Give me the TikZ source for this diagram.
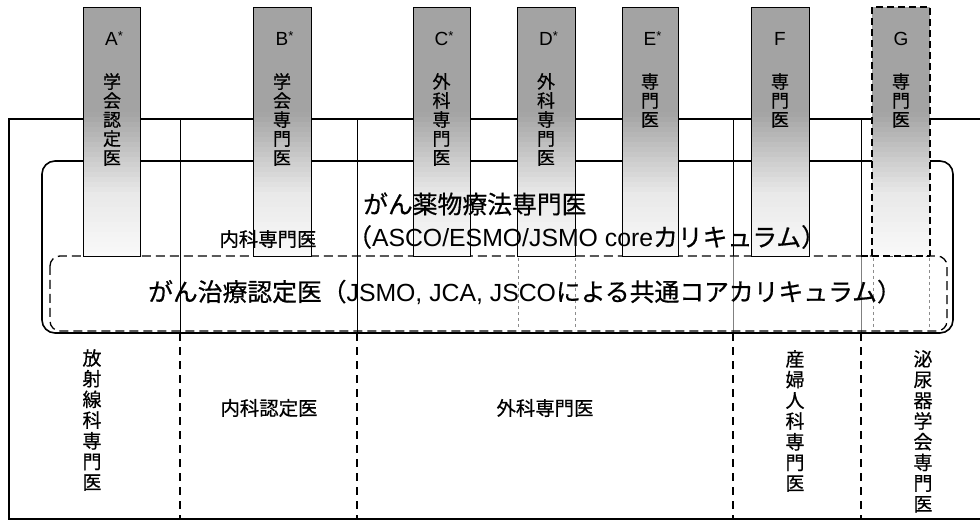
\documentclass[tikz,border=0pt]{standalone}
\usepackage{fontspec}
\setmainfont{Liberation Sans}
\newfontfamily\jp[FakeBold=0.6]{Noto Sans CJK JP}
\newcommand\colshade[2]{%
  \foreach \yy in {7,12,...,252}{%
    \pgfmathsetmacro\g{\yy<110 ? 36 : (\yy<190 ? 36-27*(\yy-110)/80 : 9-7*(\yy-190)/66)}%
    \pgfmathsetmacro\ye{min(\yy+5.6,256)}%
    \fill[black!\g] (#1,\yy) rectangle (#2,\ye);
  }}
\begin{document}
\begin{tikzpicture}[x=1pt,y=-1pt,
  frame/.style={line width=1.6pt},
  divider/.style={line width=0.9pt},
  dsh/.style={line width=1.4pt, dash pattern=on 8pt off 6pt},
  faint/.style={line width=0.5pt, black!45, dash pattern=on 3pt off 3pt},
  colbox/.style={line width=0.9pt},
  vlab/.style={font=\jp\fontsize{18}{19}\selectfont, align=center, inner sep=0pt, anchor=north},
  blab/.style={font=\jp\fontsize{19}{20.7}\selectfont, align=center, inner sep=0pt, anchor=north},
  letter/.style={font=\fontsize{19}{19}\selectfont, inner sep=0pt, anchor=base},
  big/.style={font=\jp\fontsize{24.8}{26}\selectfont, inner sep=0pt, anchor=west},
  mid/.style={font=\jp\fontsize{19.4}{20}\selectfont, inner sep=0pt}
]
\useasboundingbox (0,0) rectangle (980,521);
% outer frame (open at the right)
\coordinate (ftr) at (980,119);
\coordinate (ftl) at (9,119);
\coordinate (fbl) at (9,519);
\coordinate (fbr) at (980,519);
\draw[frame] (ftr) -- (ftl) -- (fbl) -- (fbr);
% dividers
\foreach \x in {180,357}{
  \draw[divider] (\x,119) -- (\x,333);
  \draw[dsh] (\x,333) -- (\x,519);
}
\foreach \x in {733,861}{
  \draw[divider] (\x,119) -- (\x,256);
  \draw[line width=0.5pt, black!50] (\x,256) -- (\x,333);
  \draw[dsh] (\x,333) -- (\x,519);
}
% large solid rounded box
\draw[frame, rounded corners=13pt] (42,161) rectangle (953,333);
% dashed rounded box
\draw[line width=1.3pt, dash pattern=on 9pt off 5pt, rounded corners=10pt] (50,256) rectangle (947,331);
% faint continuation of column edges
\foreach \x in {518,575,873,929}{
  \draw[faint] (\x,258) -- (\x,330);
}
% columns
\foreach \a/\b in {83/140,253/311,413/470,517/575,622/678,751/809}{
  \fill[white] (\a,7) rectangle (\b,256);
  \colshade{\a}{\b}
  \draw[colbox] (\a,7) rectangle (\b,256);
}
\fill[white] (872,7) rectangle (930,256);
\colshade{872}{930}
\draw[line width=1.3pt, dash pattern=on 7pt off 4pt] (872,256) -- (872,7) -- (930,7) -- (930,256);
\draw[line width=1.3pt, dash pattern=on 7pt off 4pt] (861,256) -- (930,256);
% column letters
\newcommand\stmark{\rlap{\raisebox{5pt}{\fontsize{13}{13}\selectfont *}}}
\node[letter] (lA) at (111.5,46) {A\stmark};
\node[letter] (lB) at (282,46) {B\stmark};
\node[letter] (lC) at (441.5,46) {C\stmark};
\node[letter] (lD) at (546,46) {D\stmark};
\node[letter] (lE) at (650,46) {E\stmark};
\node[letter] (lF) at (780,46) {F};
\node[letter] (lG) at (901,46) {G};
% column texts
\node[vlab] (tA) at (112,73) {学\\会\\認\\定\\医};
\node[vlab] (tB) at (282,73) {学\\会\\専\\門\\医};
\node[vlab] (tC) at (441.5,73) {外\\科\\専\\門\\医};
\node[vlab] (tD) at (546,73) {外\\科\\専\\門\\医};
\node[vlab] (tE) at (650,73) {専\\門\\医};
\node[vlab] (tF) at (780,73) {専\\門\\医};
\node[vlab] (tG) at (901,73) {専\\門\\医};
% central texts
\node[big] (yaku) at (363,204) {がん薬物療法専門医};
\node[big] (core) at (347,237) {（{\rmfamily ASCO/ESMO/JSMO core}カリキュラム）};
\node[big] (nintei) at (148,292) {がん治療認定医（{\rmfamily JSMO, JCA, JSCO}による共通コアカリキュラム）};
\node[mid] (naika) at (268,239) {内科専門医};
\node[mid] (naikan) at (269,408) {内科認定医};
\node[mid] (geka) at (545,408) {外科専門医};
% bottom vertical texts
\node[blab] (hosha) at (92,349) {放\\射\\線\\科\\専\\門\\医};
\node[blab] (sanfu) at (795,350) {産\\婦\\人\\科\\専\\門\\医};
\node[blab] (hinyo) at (923,350) {泌\\尿\\器\\学\\会\\専\\門\\医};
\end{tikzpicture}
\end{document}
